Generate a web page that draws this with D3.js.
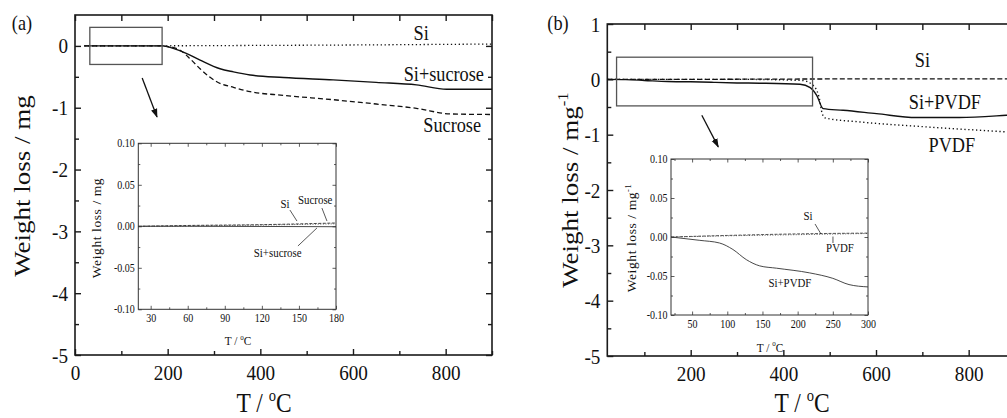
<!DOCTYPE html>
<html>
<head>
<meta charset="utf-8">
<script src="https://cdn.jsdelivr.net/npm/d3@7"></script>
<style>
  body { margin: 0; background: #fff; }
  svg { display: block; }
</style>
</head>
<body>
<svg id="chart" width="1007" height="418"></svg>
<script>
// ---------------- data ----------------
// panel (a), main
const aSiT = [20, 200, 400, 600, 800, 900];
const aSiW = [0, 0.002, 0.008, 0.015, 0.025, 0.03];
const aMixT = [20, 190, 212, 240, 270, 313, 342, 378, 450, 557, 650, 737, 802, 900];
const aMixW = [0, 0, -0.04, -0.12, -0.23, -0.37, -0.42, -0.47, -0.51, -0.55, -0.59, -0.63, -0.70, -0.70];
const aSucT = [20, 180, 200, 227, 250, 270, 290, 306, 342, 378, 450, 557, 650, 737, 810, 900];
const aSucW = [0, 0, -0.01, -0.07, -0.22, -0.37, -0.5, -0.58, -0.67, -0.74, -0.8, -0.87, -0.94, -1.01, -1.1, -1.11];
// panel (a), inset
const aInT = [20, 60, 120, 180];
const aInSi = [0, 0.0005, 0.0015, 0.003];
const aInSuc = [0, 0.001, 0.002, 0.004];
const aInMix = [0, 0, -0.0002, -0.0005];

// panel (b), main
const bSiT = [20, 200, 400, 600, 800, 900];
const bSiW = [0, 0, 0.005, 0.008, 0.01, 0.01];
const bMixT = [20, 60, 100, 150, 200, 250, 300, 349, 436, 458, 472, 486, 529, 601, 687, 780, 881, 900];
const bMixW = [0, -0.005, -0.02, -0.04, -0.045, -0.055, -0.065, -0.07, -0.09, -0.15, -0.29, -0.53, -0.56, -0.62, -0.69, -0.69, -0.65, -0.64];
const bPvT = [20, 300, 440, 463, 477, 484, 491, 565, 709, 881, 900];
const bPvW = [0, 0, -0.02, -0.1, -0.32, -0.62, -0.70, -0.77, -0.86, -0.95, -0.96];
// panel (b), inset
const bInSiT = [20, 100, 200, 300];
const bInSiW = [0, 0.002, 0.004, 0.005];
const bInPvW = [0, 0.0015, 0.003, 0.0045];
const bInMixT = [20, 61, 89, 108, 127, 146, 170, 217, 250, 273, 300];
const bInMixW = [0, -0.0043, -0.0077, -0.016, -0.029, -0.037, -0.040, -0.046, -0.053, -0.061, -0.064];

// ticks
const aXMajor = [0, 200, 400, 600, 800], aXMinor = [100, 300, 500, 700, 900];
const bXMajor = [200, 400, 600, 800], bXMinor = [100, 300, 500, 700, 900];
const aYMajor = [0, -1, -2, -3, -4, -5], aYMinor = [-0.5, -1.5, -2.5, -3.5, -4.5];
const bYMajor = [1, 0, -1, -2, -3, -4, -5], bYMinor = [0.5, -0.5, -1.5, -2.5, -3.5, -4.5];
const inYMajor = [0.1, 0.05, 0, -0.05, -0.1], inYMinor = [0.075, 0.025, -0.025, -0.075];
const aInXMajor = [30, 60, 90, 120, 150, 180], aInXMinor = [45, 75, 105, 135, 165];
const bInXMajor = [50, 100, 150, 200, 250, 300], bInXMinor = [25, 75, 125, 175, 225, 275];

const SX = 0.87; // the source type is a bit squeezed sideways
const FONT = "'Liberation Serif'";
const svg = d3.select("#chart").attr("font-family", FONT);
svg.append("rect").attr("width", 1007).attr("height", 418).attr("fill", "#fff");

svg.append("defs").append("marker")
  .attr("id", "arrow").attr("viewBox", "0 0 10 10")
  .attr("refX", 9).attr("refY", 5)
  .attr("markerWidth", 7).attr("markerHeight", 7)
  .attr("orient", "auto")
  .append("path").attr("d", "M0,1.5 L10,5 L0,8.5 Z").attr("fill", "#111");

function label(g, x, y, parts, size, anchor, rot) {
  const t = g.append("text")
    .attr("transform", rot
      ? `translate(${x},${y}) rotate(-90) scale(1,${SX})`
      : `translate(${x},${y}) scale(${SX},1)`)
    .attr("font-family", FONT)
    .attr("fill", "#111")
    .attr("font-size", size)
    .attr("text-anchor", anchor || "middle");
  // parts: strings, or [string] for a superscript
  let up = false;
  parts.forEach((p) => {
    if (typeof p === "string") {
      t.append("tspan").attr("dy", up ? size * 0.42 : 0).text(p);
      up = false;
    } else {
      t.append("tspan").attr("font-size", size * 0.62).attr("dy", -size * 0.42).text(p[0]);
      up = true;
    }
  });
  return t;
}

function drawFrame(g, x, y, o) {
  const [x0, x1] = x.range();
  const [y0, y1] = y.range();
  const lab = (ax) => ax.tickSizeOuter(0);
  // bottom
  const b = g.append("g").attr("transform", `translate(0,${y0})`)
    .call(lab(d3.axisBottom(x).tickValues(o.xMajor).tickSizeInner(-o.tMaj).tickPadding(o.xPad).tickFormat(o.xFmt)));
  b.selectAll("text").attr("transform", `scale(${SX},1)`).attr("font-size", o.fs);
  g.append("g").attr("transform", `translate(0,${y0})`)
    .call(lab(d3.axisBottom(x).tickValues(o.xMinor).tickSizeInner(-o.tMin).tickFormat("")));
  // top
  g.append("g").attr("transform", `translate(0,${y1})`)
    .call(lab(d3.axisTop(x).tickValues(o.xMajor).tickSizeInner(-o.tTopMaj).tickFormat("")));
  g.append("g").attr("transform", `translate(0,${y1})`)
    .call(lab(d3.axisTop(x).tickValues(o.xMinor).tickSizeInner(-o.tTopMin).tickFormat("")));
  // left
  const l = g.append("g").attr("transform", `translate(${x0},0)`)
    .call(lab(d3.axisLeft(y).tickValues(o.yMajor).tickSizeInner(-o.tMaj).tickPadding(o.yPad).tickFormat(o.yFmt)));
  l.selectAll("text").attr("transform", `scale(${SX},1)`).attr("font-size", o.fs);
  g.append("g").attr("transform", `translate(${x0},0)`)
    .call(lab(d3.axisLeft(y).tickValues(o.yMinor).tickSizeInner(-o.tMin).tickFormat("")));
  // right
  g.append("g").attr("transform", `translate(${x1},0)`)
    .call(lab(d3.axisRight(y).tickValues(o.yMajor).tickSizeInner(-o.tMaj).tickFormat("")));
  g.append("g").attr("transform", `translate(${x1},0)`)
    .call(lab(d3.axisRight(y).tickValues(o.yMinor).tickSizeInner(-o.tMin).tickFormat("")));

  g.selectAll(".domain").remove();
  g.selectAll("g").attr("font-family", FONT);
  g.selectAll(".tick line").attr("stroke", o.color).attr("stroke-width", o.tw);
  g.selectAll(".tick text").attr("fill", "#111").attr("font-family", FONT);
  g.append("rect")
    .attr("x", x0).attr("y", y1).attr("width", x1 - x0).attr("height", y0 - y1)
    .attr("fill", "none").attr("stroke", o.color).attr("stroke-width", o.fw);
}

function curve(g, x, y, ts, ws, dash, w, color) {
  const line = d3.line().x((d) => x(d[0])).y((d) => y(d[1])).curve(d3.curveMonotoneX);
  g.append("path")
    .attr("d", line(ts.map((t, i) => [t, ws[i]])))
    .attr("fill", "none")
    .attr("stroke", color || "#111")
    .attr("stroke-width", w)
    .attr("stroke-dasharray", dash);
}

function seg(g, x, y, a, b, w, arrow) {
  const p = g.append("line")
    .attr("x1", x(a[0])).attr("y1", y(a[1]))
    .attr("x2", x(b[0])).attr("y2", y(b[1]))
    .attr("stroke", "#111").attr("stroke-width", w);
  if (arrow) p.attr("marker-end", "url(#arrow)");
}

const intFmt = (d) => String(d);
const decFmt = (d) => d.toFixed(2);
const mainOpt = { tMaj: 6, tMin: 4, tTopMaj: 6, tTopMin: 6, xPad: 9, yPad: 8, fs: 22, fw: 1.6, tw: 1.4, color: "#1a1a1a", xFmt: intFmt, yFmt: intFmt };
const inOpt = { tMaj: 3.5, tMin: 2, tTopMaj: 3.5, tTopMin: 2, xPad: 5, yPad: 4, fs: 11.5, fw: 1, tw: 0.8, color: "#333", xFmt: intFmt, yFmt: decFmt };

// ================= panel (a) =================
const ax = d3.scaleLinear().domain([0, 900]).range([75, 492]);
const ay = d3.scaleLinear().domain([-5, 0.5]).range([355, 15]);
const ga = svg.append("g");
drawFrame(ga, ax, ay, Object.assign({}, mainOpt, { xMajor: aXMajor, xMinor: aXMinor, yMajor: aYMajor, yMinor: aYMinor }));
curve(ga, ax, ay, aSiT, aSiW, "1.3,2.6", 1.3);
curve(ga, ax, ay, aSucT, aSucW, "5,3", 1.3);
curve(ga, ax, ay, aMixT, aMixW, null, 1.4);
// zoom box + arrow
ga.append("rect")
  .attr("x", ax(32)).attr("y", ay(0.3))
  .attr("width", ax(188) - ax(32)).attr("height", ay(-0.3) - ay(0.3))
  .attr("fill", "none").attr("stroke", "#555").attr("stroke-width", 1.3);
seg(ga, ax, ay, [145, -0.52], [177, -1.15], 1.3, true);
label(ga, ax(747), ay(0.09), ["Si"], 21);
label(ga, ax(796), ay(-0.57), ["Si+sucrose"], 21);
label(ga, ax(814), ay(-1.39), ["Sucrose"], 21);
label(svg, 22, 30, ["(a)"], 21);
label(svg, 264, 412, ["T / ", ["o"], "C"], 27);
label(svg, 30, 186, ["Weight loss / mg"], 27, "middle", true);

// inset (a)
const aix = d3.scaleLinear().domain([20, 180]).range([138.3, 336]);
const aiy = d3.scaleLinear().domain([-0.1, 0.1]).range([309.3, 143.3]);
const gai = svg.append("g");
gai.append("rect").attr("x", 138.3).attr("y", 143.3).attr("width", 336 - 138.3).attr("height", 309.3 - 143.3).attr("fill", "#fff");
drawFrame(gai, aix, aiy, Object.assign({}, inOpt, { xMajor: aInXMajor, xMinor: aInXMinor, yMajor: inYMajor, yMinor: inYMinor }));
curve(gai, aix, aiy, aInT, aInSi, "1,1.6", 0.9, "#444");
curve(gai, aix, aiy, aInT, aInSuc, "3,1.5", 0.9, "#333");
curve(gai, aix, aiy, aInT, aInMix, null, 0.9, "#333");
label(gai, aix(138.7), aiy(0.0216), ["Si"], 12.5);
label(gai, aix(163.2), aiy(0.0269), ["Sucrose"], 12.5);
label(gai, aix(132.8), aiy(-0.0366), ["Si+sucrose"], 12.5);
seg(gai, aix, aiy, [142.7, 0.0196], [148.4, 0.0063], 0.7);
seg(gai, aix, aiy, [168.6, 0.022], [172.7, 0.0063], 0.7);
seg(gai, aix, aiy, [149.2, -0.0237], [164.6, -0.002], 0.7);
label(svg, 238, 345, ["T / ", ["o"], "C"], 13);
label(svg, 101, 228, ["Weight loss / mg"], 13.5, "middle", true).attr("letter-spacing", 0.6);

// ================= panel (b) =================
const bx = d3.scaleLinear().domain([20, 900]).range([607.3, 1015]);
const by = d3.scaleLinear().domain([-5, 1]).range([356, 24]);
const gb = svg.append("g");
drawFrame(gb, bx, by, Object.assign({}, mainOpt, { xMajor: bXMajor, xMinor: bXMinor, yMajor: bYMajor, yMinor: bYMinor }));
curve(gb, bx, by, bSiT, bSiW, "5,2.5", 1.3);
curve(gb, bx, by, bPvT, bPvW, "1.3,2.6", 1.4);
curve(gb, bx, by, bMixT, bMixW, null, 1.4);
gb.append("rect")
  .attr("x", bx(40)).attr("y", by(0.4))
  .attr("width", bx(463) - bx(40)).attr("height", by(-0.48) - by(0.4))
  .attr("fill", "none").attr("stroke", "#555").attr("stroke-width", 1.3);
seg(gb, bx, by, [224, -0.65], [259.5, -1.22], 1.3, true);
label(gb, bx(700), by(0.22), ["Si"], 21);
label(gb, bx(748.6), by(-0.54), ["Si+PVDF"], 21);
label(gb, bx(763.6), by(-1.32), ["PVDF"], 21);
label(svg, 558, 30, ["(b)"], 21);
label(svg, 802, 412, ["T / ", ["o"], "C"], 27);
label(svg, 578, 190, ["Weight loss / mg", ["-1"]], 27, "middle", true);

// inset (b)
const bix = d3.scaleLinear().domain([20, 300]).range([671, 868]);
const biy = d3.scaleLinear().domain([-0.1, 0.1]).range([315, 159]);
const gbi = svg.append("g");
gbi.append("rect").attr("x", 671).attr("y", 159).attr("width", 868 - 671).attr("height", 315 - 159).attr("fill", "#fff");
drawFrame(gbi, bix, biy, Object.assign({}, inOpt, { xMajor: bInXMajor, xMinor: bInXMinor, yMajor: inYMajor, yMinor: inYMinor }));
curve(gbi, bix, biy, bInSiT, bInSiW, "3,1.5", 0.9, "#444");
curve(gbi, bix, biy, bInSiT, bInPvW, "1,1.6", 0.9, "#444");
curve(gbi, bix, biy, bInMixT, bInMixW, null, 0.9, "#333");
label(gbi, bix(214.7), biy(0.0218), ["Si"], 12.5);
label(gbi, bix(260.2), biy(-0.0188), ["PVDF"], 12.5);
label(gbi, bix(189), biy(-0.0637), ["Si+PVDF"], 12.5);
seg(gbi, bix, biy, [224.7, 0.0167], [233.2, 0.0038], 0.7);
seg(gbi, bix, biy, [250.2, -0.0077], [250.2, 0.0006], 0.7);
label(svg, 770, 351.7, ["T / ", ["o"], "C"], 13);
label(svg, 636, 238, ["Weight loss / mg", ["-1"]], 13.5, "middle", true).attr("letter-spacing", 0.6);
</script>
</body>
</html>
